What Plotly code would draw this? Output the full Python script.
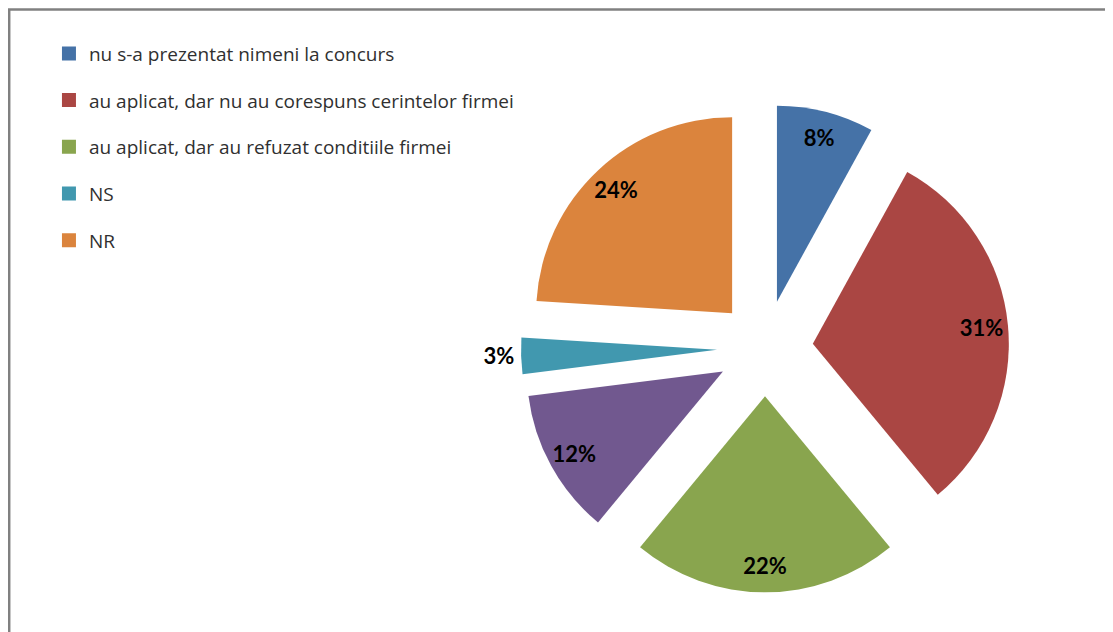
import plotly.graph_objects as go

categories = [
    "nu s-a prezentat nimeni la concurs",
    "au aplicat, dar nu au corespuns cerintelor firmei",
    "au aplicat, dar au refuzat conditiile firmei",
    "(alta situatie)",
    "NS",
    "NR",
]
values = [8, 31, 22, 12, 3, 24]
colors = ["#4572A7", "#AA4643", "#89A54E", "#71588F", "#4198AF", "#DB843D"]
legend_items = [0, 1, 2, 4, 5]  # the purple slice has no legend entry in the original
label_positions = ["inside", "inside", "inside", "inside", "outside", "inside"]

W, H = 1113, 632
dom_x = [0.4609, 0.8994]
dom_y = [0.0735, 0.8497]
pull = [0.245] * len(values)

fig = go.Figure()

# coloured slices
fig.add_trace(go.Pie(
    labels=categories, values=values, sort=False, direction="clockwise", rotation=0,
    marker=dict(colors=colors, line=dict(width=0)),
    pull=pull, textinfo="none", hoverinfo="label+percent",
    domain=dict(x=dom_x, y=dom_y), showlegend=False,
))

# transparent ring carrying the percentage labels near the rim
fig.add_trace(go.Pie(
    labels=categories, values=values, sort=False, direction="clockwise", rotation=0,
    hole=0.73,
    marker=dict(colors=["rgba(0,0,0,0)"] * len(values), line=dict(width=0)),
    pull=pull, textinfo="percent", texttemplate="%{percent:.0%}",
    textposition=label_positions, insidetextorientation="horizontal",
    textfont=dict(family="Lato", size=22, color="#000000", weight="bold"),
    hoverinfo="skip",
    domain=dict(x=dom_x, y=dom_y), showlegend=False,
))

# legend entries
for i in legend_items:
    fig.add_trace(go.Scatter(
        x=[None], y=[None], mode="markers", name=categories[i],
        marker=dict(symbol="square", size=14, color=colors[i]),
        legendgroup=str(i), showlegend=True,
    ))

fig.update_layout(
    width=W, height=H,
    margin=dict(l=0, r=0, t=0, b=0, autoexpand=False),
    paper_bgcolor="white", plot_bgcolor="white",
    xaxis=dict(visible=False), yaxis=dict(visible=False),
    legend=dict(
        x=0.0368, y=0.958, xanchor="left", yanchor="top",
        font=dict(family="Open Sans", size=19, color="#303030"),
        tracegroupgap=19, itemclick=False, bgcolor="rgba(0,0,0,0)",
    ),
    shapes=[
        dict(type="line", xref="paper", yref="paper", x0=1.2 / W, x1=1.2 / W, y0=-0.1, y1=1 - 1.5 / H,
             line=dict(color="#808080", width=2.5)),
        dict(type="line", xref="paper", yref="paper", x0=0, x1=1.1, y0=1 - 1.5 / H, y1=1 - 1.5 / H,
             line=dict(color="#808080", width=2.5)),
    ],
)

fig.write_html("out.html")
